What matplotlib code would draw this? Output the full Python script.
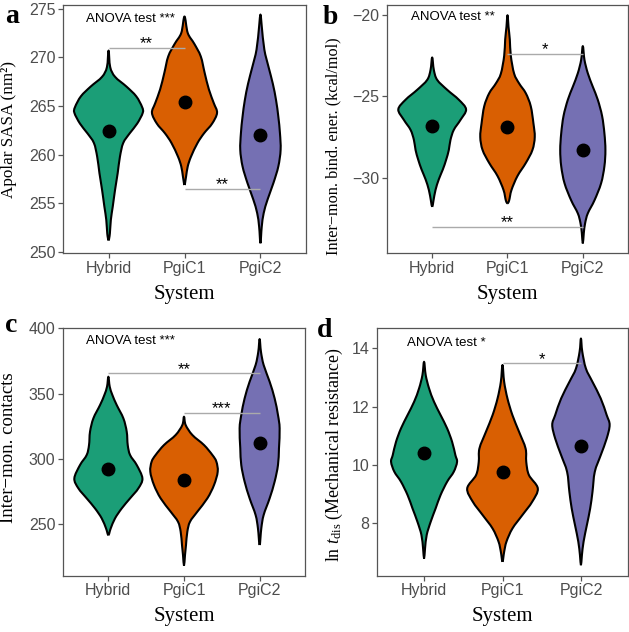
import numpy as np
import matplotlib
matplotlib.use('Agg')
import matplotlib.pyplot as plt
from matplotlib.path import Path
from matplotlib.patches import PathPatch

plt.rcParams['font.family'] = ['Liberation Sans', 'DejaVu Sans']
plt.rcParams['mathtext.fontset'] = 'custom'
plt.rcParams['mathtext.rm'] = 'Liberation Serif'
plt.rcParams['mathtext.it'] = 'Liberation Serif:italic'

systems = ['Hybrid', 'PgiC1', 'PgiC2']
colors = ['#1B9E77', '#D95F02', '#7570B3']

# ---- panel a: Apolar SASA (violin profiles: y levels and relative density widths)
sasa_hybrid_y = [251.2, 251.9, 253.3, 254.7, 256.4, 258.1, 259.8, 261.2, 262.2, 263.2, 264.3, 264.9, 266.0, 267.0, 268.0, 269.0, 270.7]
sasa_hybrid_w = [0, 4, 7, 13, 20, 28, 35, 45, 65, 88, 105, 103, 85, 55, 20, 5, 0]
sasa_pgic1_y = [256.9, 257.8, 258.8, 259.8, 261.2, 262.2, 263.2, 264.3, 265.3, 266.7, 268.4, 270.1, 271.4, 272.5, 274.2]
sasa_pgic1_w = [0, 5, 10, 20, 40, 60, 85, 100, 90, 75, 62, 50, 30, 10, 0]
sasa_pgic2_y = [250.9, 252.6, 254.0, 255.4, 257.1, 258.8, 260.5, 262.2, 263.9, 265.6, 267.3, 269.0, 270.8, 273.2, 274.4]
sasa_pgic2_w = [0, 4, 10, 22, 40, 55, 62, 60, 55, 48, 38, 25, 12, 4, 0]
sasa_means = [262.4, 265.4, 262.0]
sasa_comparisons = [(0, 1, 271.0, '**'), (1, 2, 256.5, '**')]

# ---- panel b: binding energy
bind_hybrid_y = [-31.8, -31.4, -30.76, -30.1, -29.5, -28.9, -28.3, -27.68, -27.06, -26.45, -25.8, -25.2, -24.59, -23.98, -23.37, -22.6]
bind_hybrid_w = [0, 4, 10, 20, 32, 42, 50, 55, 65, 85, 102, 80, 45, 15, 5, 0]
bind_pgic1_y = [-31.58, -31.4, -30.76, -29.9, -29.1, -28.3, -27.5, -26.65, -25.6, -24.8, -24.2, -23.6, -22.5, -21.5, -20.7, -20.0]
bind_pgic1_w = [0, 5, 12, 30, 55, 75, 82, 78, 70, 55, 35, 20, 10, 7, 3, 0]
bind_pgic2_y = [-34.05, -33.4, -32.8, -32.2, -31.4, -30.35, -29.3, -28.3, -27.27, -26.2, -25.2, -24.4, -23.57, -22.75, -21.9]
bind_pgic2_w = [0, 3, 7, 15, 35, 55, 65, 68, 65, 58, 45, 30, 15, 5, 0]
bind_means = [-26.8, -26.86, -28.3]
bind_comparisons = [(1, 2, -22.38, '*'), (0, 2, -33.02, '**')]

# ---- panel c: contacts
cont_hybrid_y = [241.8, 246.9, 254.6, 262.2, 269.9, 277.6, 285.2, 295.4, 303.1, 310.7, 320.9, 331.1, 341.3, 349.0, 355.4, 363.0]
cont_hybrid_w = [0, 7, 20, 40, 65, 90, 102, 85, 65, 58, 55, 45, 25, 12, 4, 0]
cont_pgic1_y = [218.4, 226.5, 234.2, 244.4, 252.0, 259.7, 269.9, 280.1, 290.3, 298.0, 303.1, 310.7, 318.4, 326.0, 332.4]
cont_pgic1_w = [0, 3, 6, 10, 18, 40, 70, 90, 101, 97, 85, 60, 25, 5, 0]
cont_pgic2_y = [234.2, 246.9, 257.1, 269.9, 282.7, 295.4, 308.2, 323.5, 333.7, 346.4, 359.2, 372.0, 382.1, 391.8]
cont_pgic2_w = [0, 5, 12, 30, 45, 55, 58, 60, 55, 45, 30, 12, 4, 0]
cont_means = [292.3, 284.2, 312.5]
cont_comparisons = [(0, 2, 365.6, '**'), (1, 2, 335.5, '***')]

# ---- panel d: mechanical resistance
mech_hybrid_y = [6.78, 7.13, 7.59, 8.04, 8.5, 8.96, 9.42, 9.76, 10.1, 10.33, 10.79, 11.25, 11.71, 12.17, 12.63, 13.08, 13.54]
mech_hybrid_w = [0, 3, 8, 20, 35, 50, 70, 90, 100, 95, 85, 70, 50, 30, 15, 5, 0]
mech_pgic1_y = [6.67, 7.01, 7.36, 7.81, 8.27, 8.73, 9.19, 9.65, 10.1, 10.56, 11.14, 11.71, 12.28, 12.85, 13.43]
mech_pgic1_w = [0, 5, 12, 30, 60, 90, 107, 80, 72, 70, 50, 30, 15, 5, 0]
mech_pgic2_y = [6.55, 6.9, 7.36, 7.93, 8.5, 9.07, 9.76, 10.33, 10.9, 11.37, 11.71, 12.28, 12.85, 13.31, 13.89, 14.34]
mech_pgic2_w = [0, 3, 8, 18, 28, 35, 42, 60, 78, 87, 78, 60, 35, 15, 4, 0]
mech_means = [10.39, 9.74, 10.64]
mech_comparisons = [(1, 2, 13.5, '*')]

anova_labels = ['ANOVA test ***', 'ANOVA test **', 'ANOVA test ***', 'ANOVA test *']
y_labels = ['Apolar SASA (nm²)', 'Inter−mon. bind. ener. (kcal/mol)',
            'Inter−mon. contacts', r'ln $\mathit{t}_{\mathrm{dis}}$ (Mechanical resistance)']
y_ticks = [[250, 255, 260, 265, 270, 275], [-30, -25, -20], [250, 300, 350, 400], [8, 10, 12, 14]]
y_limits = [(249.9, 275.38), (-34.64, -19.37), (210.7, 400.5), (6.19, 14.69)]
panel_letters = ['a', 'b', 'c', 'd']

panels = [
    ([(sasa_hybrid_y, sasa_hybrid_w), (sasa_pgic1_y, sasa_pgic1_w), (sasa_pgic2_y, sasa_pgic2_w)], sasa_means, sasa_comparisons),
    ([(bind_hybrid_y, bind_hybrid_w), (bind_pgic1_y, bind_pgic1_w), (bind_pgic2_y, bind_pgic2_w)], bind_means, bind_comparisons),
    ([(cont_hybrid_y, cont_hybrid_w), (cont_pgic1_y, cont_pgic1_w), (cont_pgic2_y, cont_pgic2_w)], cont_means, cont_comparisons),
    ([(mech_hybrid_y, mech_hybrid_w), (mech_pgic1_y, mech_pgic1_w), (mech_pgic2_y, mech_pgic2_w)], mech_means, mech_comparisons),
]

W, H = 629, 632
fig = plt.figure(figsize=(W / 100, H / 100), dpi=100)

# axes boxes in pixels: left, right, top, bottom
boxes = [(63, 306, 5, 253), (387, 628, 5, 253), (63, 305, 327.7, 575.7), (377, 628, 328.3, 575.7)]
ylab_pos = [(-0.19, 0.5), (-0.19, 0.431), (-0.19, 0.515), (-0.128, 0.49)]
ylab_size = [12.3, 11.7, 13.5, 12.9]
anova_pos = [(0.095, 0.942), (0.10, 0.953), (0.095, 0.946), (0.12, 0.939)]
letter_pos = [(5, 23), (323, 24), (5, 332), (317, 337)]

border = '#555555'


def catmull_path(pts):
    n = len(pts)
    verts = [pts[0]]
    codes = [Path.MOVETO]
    for i in range(n):
        p0 = pts[(i - 1) % n]
        p1 = pts[i]
        p2 = pts[(i + 1) % n]
        p3 = pts[(i + 2) % n]
        c1 = p1 + (p2 - p0) / 6.0
        c2 = p2 - (p3 - p1) / 6.0
        verts += [c1, c2, p2]
        codes += [Path.CURVE4] * 3
    return Path(np.array(verts), codes)


for k, (violins, means, comps) in enumerate(panels):
    l, r, t, b = boxes[k]
    ax = fig.add_axes([l / W, 1 - b / H, (r - l) / W, (b - t) / H])
    ax.set_xlim(0.4, 3.6)
    ax.set_ylim(*y_limits[k])
    maxw = max(max(w) for _, w in violins)
    scale = 0.45 / maxw
    for i, (ys, ws) in enumerate(violins):
        c = i + 1
        ys = np.asarray(ys, float)
        ws = np.asarray(ws, float) * scale
        right = np.column_stack([c + ws, ys])
        left = np.column_stack([c - ws[::-1], ys[::-1]])
        pts = np.vstack([right, left[1:-1]])
        sx = 1.0 / 3.2
        sy = 1.0 / (y_limits[k][1] - y_limits[k][0])
        npts = pts * np.array([sx, sy])
        p = catmull_path(npts)
        verts = p.vertices / np.array([sx, sy])
        path = Path(verts, p.codes)
        ax.add_patch(PathPatch(path, facecolor=colors[i], edgecolor='black', lw=1.5,
                               joinstyle='round', zorder=2))
    ax.plot([1, 2, 3], means, 'o', color='black', markersize=9, zorder=3)
    for (i1, i2, yv, stars) in comps:
        ax.plot([i1 + 1, i2 + 1], [yv, yv], color='#AAAAAA', lw=1.0, zorder=4, solid_capstyle='butt')
        ax.annotate(stars, xy=((i1 + i2) / 2 + 1, yv), xytext=(0, -0.5), textcoords='offset points',
                    ha='center', va='baseline', fontsize=12, color='black', zorder=5)
    ax.text(anova_pos[k][0], anova_pos[k][1], anova_labels[k], transform=ax.transAxes,
            ha='left', va='center', fontsize=9.5, color='black')
    ax.set_xticks([1, 2, 3])
    ax.set_xticklabels(systems)
    ax.set_yticks(y_ticks[k])
    ax.tick_params(axis='both', length=3.5, width=0.9, color=border, labelcolor='#4D4D4D',
                   labelsize=11.5, pad=2)
    for s in ax.spines.values():
        s.set_color(border)
        s.set_linewidth(0.9)
    ax.set_xlabel('System', family='Liberation Serif', fontsize=15)
    ax.xaxis.set_label_coords(0.5, -0.128)
    ax.set_ylabel(y_labels[k], family='Liberation Serif', fontsize=ylab_size[k])
    ax.yaxis.set_label_coords(*ylab_pos[k])
    fig.text(letter_pos[k][0] / W, 1 - letter_pos[k][1] / H, panel_letters[k], family='Liberation Serif',
             fontweight='bold', fontsize=20, va='baseline', ha='left')

fig.savefig('out.png', dpi=100)
